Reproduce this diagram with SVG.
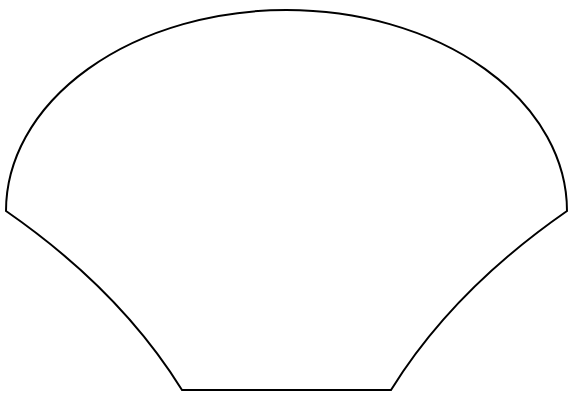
<svg xmlns="http://www.w3.org/2000/svg" width="568" height="394" viewBox="0 0 568 394">
<style>.s{fill:#fff;stroke:#000;stroke-width:2;stroke-linejoin:miter}</style>
<rect width="568" height="394" fill="#fff"/>
<g id="shape">
<path class="s" d="M6,211 A280.5,201 0 0 1 567,211 Q453,290 391,390 L182,390 Q120,290 6,211 Z"/>
</g>
</svg>
